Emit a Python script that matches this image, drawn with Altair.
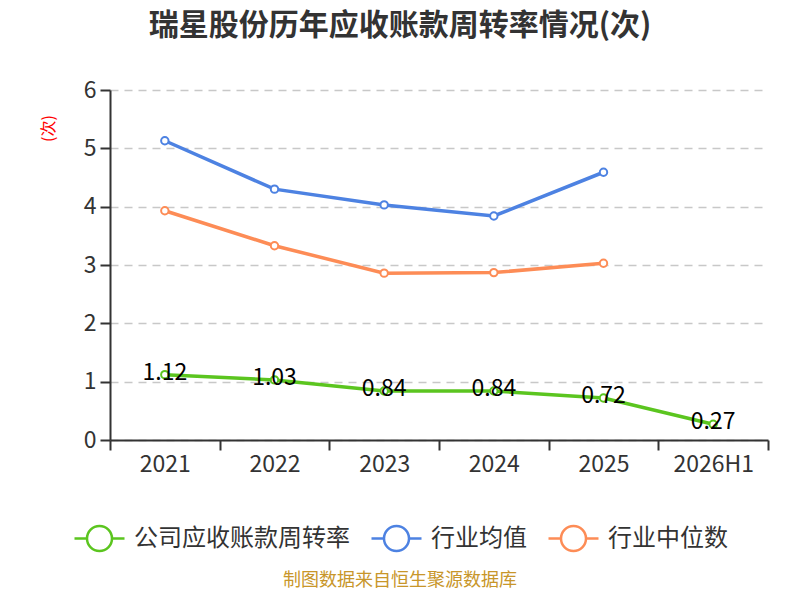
import altair as alt
import pandas as pd

years = ["2021", "2022", "2023", "2024", "2025", "2026H1"]
company = [1.12, 1.03, 0.84, 0.84, 0.72, 0.27]
ind_mean = [5.13, 4.30, 4.03, 3.84, 4.59]
ind_median = [3.93, 3.33, 2.86, 2.87, 3.03]
series_names = ["公司应收账款周转率", "行业均值", "行业中位数"]
colors = ["#5bc51f", "#4d82e2", "#fd8c56"]

rows = []
for y, v in zip(years, company):
    rows.append({"year": y, "value": v, "series": series_names[0]})
for y, v in zip(years, ind_mean):
    rows.append({"year": y, "value": v, "series": series_names[1]})
for y, v in zip(years, ind_median):
    rows.append({"year": y, "value": v, "series": series_names[2]})
df = pd.DataFrame(rows)
df["order"] = df["series"].map({s: i for i, s in enumerate(series_names)})

FONT = "Noto Sans CJK SC"

sym = "M-1,0L-0.5,0M0.5,0L1,0M-0.5,0A0.5,0.5 0 1,1 0.5,0A0.5,0.5 0 1,1 -0.5,0Z"

x = alt.X("year:N", sort=years, title=None,
          scale=alt.Scale(domain=years),
          axis=alt.Axis(labelAngle=0, labelFontSize=23, labelColor="#333333",
                        labelFont=FONT, domainColor="#333333", domainWidth=2,
                        tickColor="#333333", tickWidth=2, tickSize=10, tickBand="extent",
                        labelPadding=3, grid=False))
y = alt.Y("value:Q", title="(次)",
          scale=alt.Scale(domain=[0, 6], nice=False, zero=True),
          axis=alt.Axis(values=[0, 1, 2, 3, 4, 5, 6], format="d", labelFontSize=23,
                        labelColor="#333333", labelFont=FONT, domainColor="#333333",
                        domainWidth=2, tickColor="#333333", tickWidth=2, tickSize=10,
                        labelPadding=4, grid=True, gridColor="#c8c8c8", gridDash=[8, 6],
                        gridWidth=1.5, titleColor="#ff0000", titleFontSize=16,
                        titleFont=FONT, titleFontWeight="normal", titleAngle=-90,
                        titleX=-62, titleY=38, titleAlign="center", titleBaseline="middle"))
color_scale = alt.Scale(domain=series_names, range=colors)
color = alt.Color("series:N", scale=color_scale,
                  legend=alt.Legend(title=None, orient="none", direction="horizontal",
                                    legendX=-37, legendY=422, symbolType=sym,
                                    symbolSize=2500, symbolStrokeWidth=2.5,
                                    symbolFillColor="white", labelFontSize=24,
                                    labelFont=FONT, labelColor="#333333", labelLimit=0,
                                    labelOffset=8, columnPadding=16, symbolOffset=0))

base = alt.Chart(df)
lines = base.mark_line(strokeWidth=3.5).encode(x=x, y=y, color=color, order="order:Q")
points = base.mark_point(shape="circle", filled=False, fill="white", fillOpacity=1,
                         size=55, strokeWidth=2, opacity=1).encode(
    x=x, y=y, stroke=alt.Stroke("series:N", scale=color_scale, legend=None))
labels = base.transform_filter(alt.datum.series == series_names[0]).mark_text(
    fontSize=23, font=FONT, color="#000000", baseline="middle", dy=-2
).encode(x=x, y=y, text=alt.Text("value:Q", format=".2f"))

footer = alt.Chart(pd.DataFrame({"t": ["制图数据来自恒生聚源数据库"]})).mark_text(
    fontSize=18, font=FONT, color="#c8962a", baseline="middle", align="center"
).encode(x=alt.value(290), y=alt.value(491), text="t:N")

chart = alt.layer(lines, points, labels, footer).properties(
    width=658, height=350,
    title=alt.TitleParams("瑞星股份历年应收账款周转率情况(次)", fontSize=30, font=FONT,
                          fontWeight="bold", color="#333333", anchor="middle",
                          dx=-39, offset=38),
    autosize=alt.AutoSizeParams(type="none"),
    padding={"left": 102, "top": 82, "right": 24, "bottom": 152},
    background="white",
).configure_view(stroke=None)

chart.save("out.html", embed_options={"renderer": "svg", "actions": False})
